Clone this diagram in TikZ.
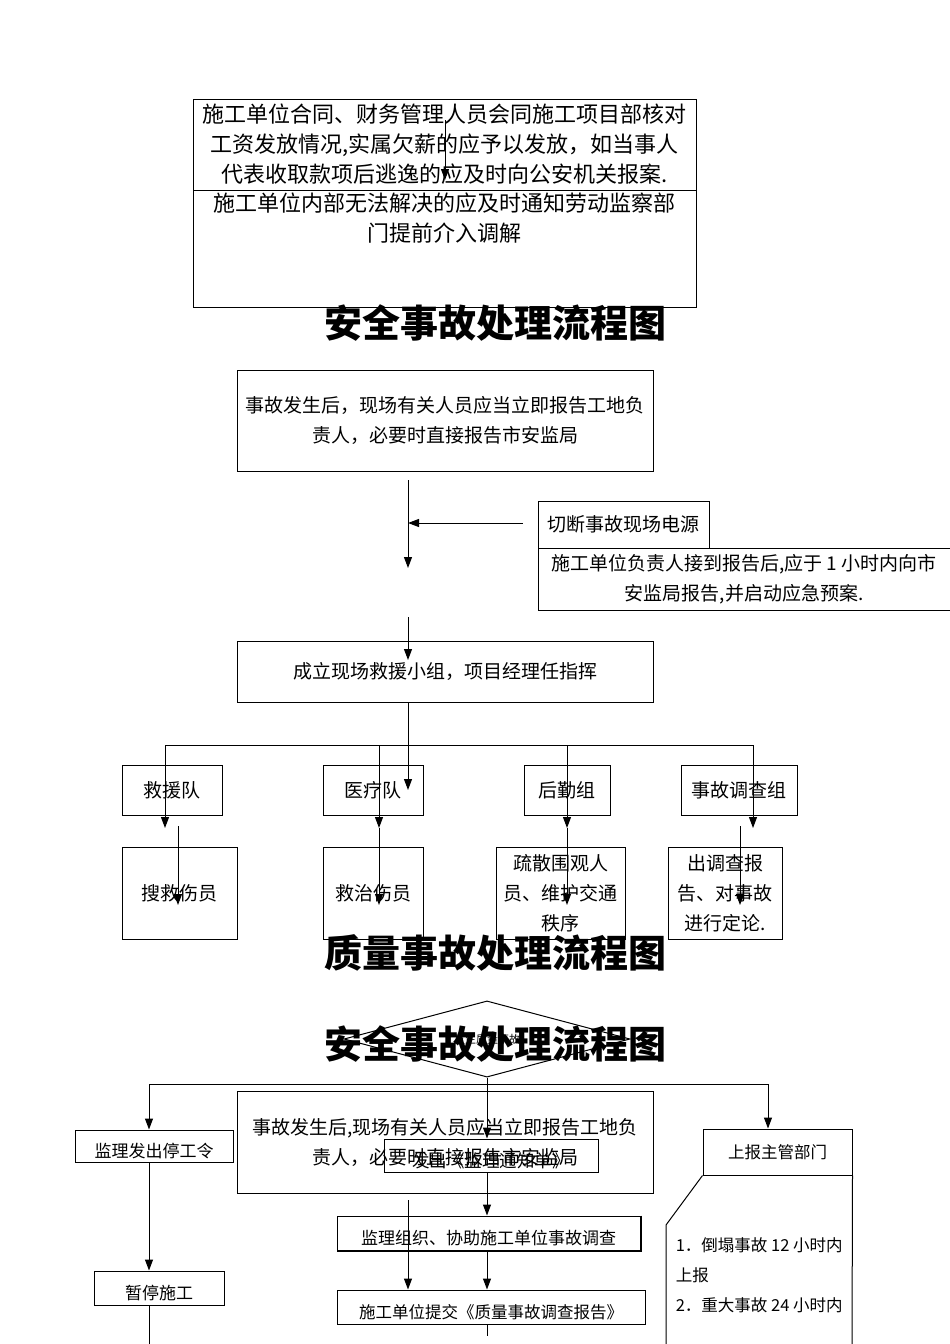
\documentclass[tikz,border=0pt]{standalone}
\usepackage{fontspec}
\setmainfont{Noto Sans CJK SC}
\usetikzlibrary{arrows.meta, positioning, shapes.geometric}

\newcommand{\fsz}[1]{\fontsize{#1}{30}\selectfont}
\newcommand{\lowtext}[1]{\raisebox{-5pt}[\height][\depth]{#1}}
\tikzset{
  box/.style={draw, inner sep=0pt, align=center, font=\fsz{19}},
  arr/.style={-{Triangle[length=11pt,width=8pt]}},
  bigtitle/.style={font=\fontsize{38}{40}\selectfont\bfseries},
}

\begin{document}
\begin{tikzpicture}[x=1pt, y=-1pt, line width=1pt]
    \useasboundingbox (0,0) rectangle (950,1344);
    \clip (0,0) rectangle (950,1344);

    % Wage boxes at the top
    \node[box, minimum width=503pt, minimum height=91pt, font=\fsz{22}] (wage) at (444.5,144.5)
        {施工单位合同、财务管理人员会同施工项目部核对\\工资发放情况,实属欠薪的应予以发放，如当事人\\代表收取款项后逃逸的应及时向公安机关报案.};
    \node[box, minimum width=503pt, minimum height=117pt,
          label={[font=\fsz{22}, align=center, anchor=north, inner sep=3pt]north:{施工单位内部无法解决的应及时通知劳动监察部\\门提前介入调解}}]
        (labour) at (444.5,248.5) {};
    \coordinate (w1) at (445,120);
    \coordinate (w2) at (445,180);
    \draw[arr] (w1) -- (w2);

    % Safety accident flow
    \node[bigtitle] (title1) at (495,323) {安全事故处理流程图};

    \node[box, minimum width=416pt, minimum height=101pt] (report) at (445,420.5)
        {事故发生后，现场有关人员应当立即报告工地负\\责人，必要时直接报告市安监局};
    \node[box, minimum width=171pt, minimum height=47pt] (power) at (623.5,524.5) {切断事故现场电源};
    \node[box, minimum width=412pt, minimum height=62pt] (hour) at (744,579)
        {施工单位负责人接到报告后,应于 1 小时内向市\\安监局报告,并启动应急预案.};
    \coordinate (s1) at (408,480);
    \coordinate (s2) at (408,568);
    \coordinate (s3) at (408,523);
    \coordinate (s4) at (408,617);
    \coordinate (s5) at (408,660);
    \draw[arr] (s1) -- (s2);
    \draw[arr] (power.west |- s3) ++(-15,0) -- (s3);
    \draw[arr] (s4) -- (s5);

    \node[box, minimum width=416pt, minimum height=61pt] (team) at (445,671.5)
        {成立现场救援小组，项目经理任指挥};
    \coordinate (t1) at (408,790);
    \draw[arr] (team.south -| t1) -- (t1);

    % Four groups
    \node[box, minimum width=100pt, minimum height=50pt] (rescue) at (172,790) {救援队};
    \node[box, minimum width=100pt, minimum height=50pt] (medic) at (373,790) {医疗队};
    \node[box, minimum width=86pt, minimum height=50pt] (logis) at (567,790) {后勤组};
    \node[box, minimum width=116pt, minimum height=50pt] (inves) at (739,790) {事故调查组};

    \node[box, minimum width=115pt, minimum height=92pt] (search) at (179.5,893) {搜救伤员};
    \node[box, minimum width=100pt, minimum height=92pt] (treat) at (373,893) {救治伤员};
    \node[box, minimum width=129pt, minimum height=92pt] (crowd) at (560.5,893) {疏散围观人\\员、维护交通\\秩序};
    \node[box, minimum width=114pt, minimum height=92pt] (verdict) at (725,893) {出调查报\\告、对事故\\进行定论.};

    \draw (165,745) -- (753,745);
    \foreach \x in {165,379,567,753}
        \draw[arr] (\x,745) -- (\x,828);
    \foreach \x/\y in {178/826,379/828,567/828,740/826}
        \draw[arr] (\x,\y) -- (\x,905);

    % Quality accident flow
    \node[bigtitle] (title2) at (495,953) {质量事故处理流程图};

    \node[draw, diamond, minimum width=286pt, minimum height=66pt, inner sep=0pt, font=\fontsize{11}{12}\selectfont]
        (event) at (487,1039) {发生质量事故};
    \node[bigtitle] (title3) at (495,1044) {安全事故处理流程图};

    \node[box, minimum width=416pt, minimum height=102pt] (report2) at (445,1142)
        {事故发生后,现场有关人员应当立即报告工地负\\责人，必要时直接报告市安监局};
    \node[box, minimum width=214pt, minimum height=33pt, font=\fsz{17.5}] (notice) at (491,1155.5) {\lowtext{发出《监理通知单》}};
    \node[box, minimum width=158pt, minimum height=32pt, font=\fsz{17}] (stop) at (154,1146) {\lowtext{监理发出停工令}};
    \node[box, minimum width=130pt, minimum height=34pt, font=\fsz{17}] (pause) at (159,1288) {\lowtext{暂停施工}};
    \node[box, minimum width=303pt, minimum height=34pt, font=\fsz{17}] (organ) at (488.5,1233) {\lowtext{监理组织、协助施工单位事故调查}};
    \draw[line width=2pt] (organ.north east) -- (organ.south east) -- (organ.south west);
    \node[box, minimum width=308pt, minimum height=34pt, font=\fsz{16.5}] (submit) at (491,1307) {\lowtext{施工单位提交《质量事故调查报告》}};
    \node[box, minimum width=149pt, minimum height=46pt, font=\fsz{16.5}] (upper) at (777.5,1152) {上报主管部门};

    \draw (149,1084) -- (768,1084);
    \draw[arr] (149,1084) -- (stop.north -| 149,0);
    \draw[arr] (768,1084) -- (upper.north -| 768,0);
    \draw[arr] (event.south) -- (notice.north -| event.south);
    \draw[arr] (stop.south -| 149,0) -- (pause.north -| 149,0);
    \draw (pause.south -| 149,0) -- (149,1350);
    \draw[arr] (notice.south -| 487,0) -- (organ.north -| 487,0);
    \draw[arr] (organ.south -| 487,0) -- (submit.north -| 487,0);
    \coordinate (q1) at (408,1200);
    \draw[arr] (q1) -- (submit.north -| q1);
    \draw (submit.south -| 487,0) -- (487,1336);

    % Reporting deadlines
    \draw (upper.south west) -- (666,1225) -- (666,1350);
    \draw (upper.south east) -- (852,1350);
    \node[anchor=west, align=left, font=\fsz{16.5}] (limits) at (672,1275)
        {1．倒塌事故 12 小时内\\上报\\2．重大事故 24 小时内};

\end{tikzpicture}
\end{document}
